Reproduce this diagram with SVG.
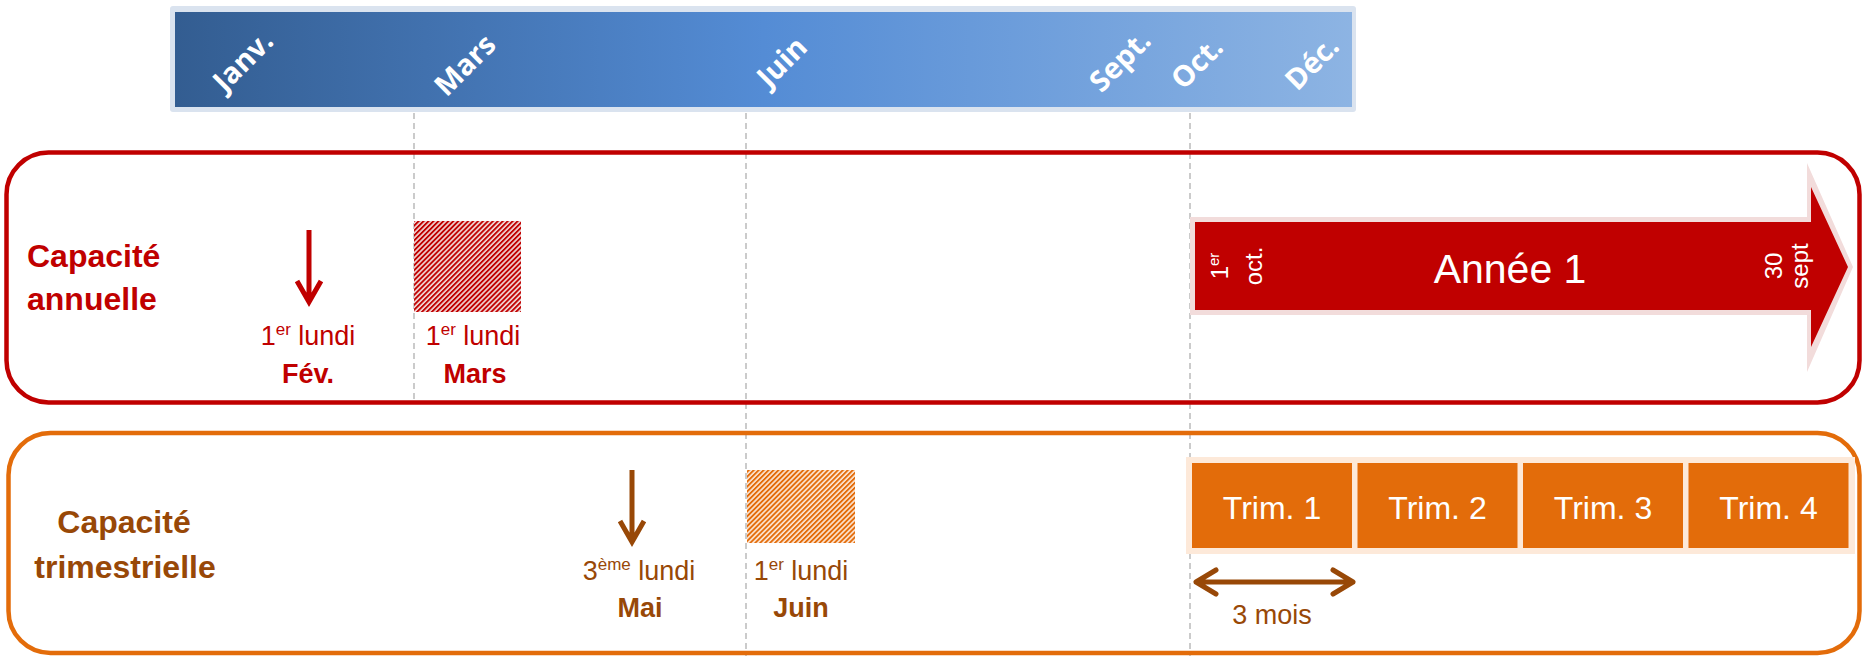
<svg xmlns="http://www.w3.org/2000/svg" width="1864" height="656" viewBox="0 0 1864 656">
<defs>
<linearGradient id="barGrad" x1="0" y1="0" x2="1" y2="0">
<stop offset="0" stop-color="#335d91"/>
<stop offset="0.5" stop-color="#548cd5"/>
<stop offset="1" stop-color="#8db4e3"/>
</linearGradient>
<pattern id="hatchRed" patternUnits="userSpaceOnUse" width="3.5" height="3.5" patternTransform="rotate(45)">
<rect width="3.5" height="3.5" fill="#f2dcdb"/>
<rect width="1.9" height="3.5" fill="#c00000"/>
</pattern>
<pattern id="hatchOrange" patternUnits="userSpaceOnUse" width="3.5" height="3.5" patternTransform="rotate(45)">
<rect width="3.5" height="3.5" fill="#fde9d9"/>
<rect width="1.9" height="3.5" fill="#e36c0a"/>
</pattern>
<style>
.month{font-family:"Open Sans","Liberation Sans",sans-serif;font-weight:700;font-size:29px;fill:#fff;text-anchor:middle}
.lbl{font-family:"Liberation Sans",Arial,sans-serif;font-size:27px;text-anchor:middle}
.b{font-weight:700}
.title{font-family:"Liberation Sans",Arial,sans-serif;font-size:32px;font-weight:700}
.red{fill:#c00000}
.brown{fill:#984807}
.dash{stroke:#bfbfbf;stroke-width:1.6;stroke-dasharray:6 4;fill:none}
.wtxt{font-family:"Liberation Sans",Arial,sans-serif;fill:#fff;text-anchor:middle}
</style>
</defs>
<rect width="1864" height="656" fill="#fff"/>

<g id="connectors">
<line class="dash" x1="414" y1="113" x2="414" y2="404"/>
<line class="dash" x1="746" y1="113" x2="746" y2="656"/>
<line class="dash" x1="1190" y1="113" x2="1190" y2="656"/>
<path d="M309,230 V301 M297,281 L309,302 L321,281" fill="none" stroke="#c00000" stroke-width="5"/>
<path d="M632,470 V541 M620,521 L632,542 L644,521" fill="none" stroke="#984807" stroke-width="5"/>
<path d="M1196,582 H1353 M1216,570 L1196,582 L1216,594 M1333,570 L1353,582 L1333,594" fill="none" stroke="#984807" stroke-width="5" stroke-linecap="round" stroke-linejoin="round"/>
</g>

<g id="timeline">
<rect x="170" y="6" width="1186" height="106" rx="3" fill="#dae3ef"/>
<rect x="175" y="12" width="1177" height="95" fill="url(#barGrad)"/>
<text class="month" transform="translate(243,61) rotate(-45)" dy="10">Janv.</text>
<text class="month" transform="translate(465,65) rotate(-45)" dy="10">Mars</text>
<text class="month" transform="translate(782,62) rotate(-45)" dy="10">Juin</text>
<text class="month" transform="translate(1120,61) rotate(-45)" dy="10">Sept.</text>
<text class="month" transform="translate(1197,63) rotate(-45)" dy="10">Oct.</text>
<text class="month" transform="translate(1312,63) rotate(-45)" dy="10">Déc.</text>
</g>

<g id="annual">
<rect x="6.5" y="152.5" width="1853" height="250" rx="42" fill="none" stroke="#c00000" stroke-width="4.5"/>
<text class="title red" x="27" y="267">Capacité</text>
<text class="title red" x="27" y="310">annuelle</text>
</g>

<g id="annual-feb">
<text class="lbl red" x="308" y="345">1<tspan font-size="17" dy="-10">er</tspan><tspan dy="10"> lundi</tspan></text>
<text class="lbl red b" x="308" y="383">Fév.</text>
</g>

<g id="annual-mar">
<rect x="414" y="221" width="107" height="91" fill="url(#hatchRed)"/>
<text class="lbl red" x="473" y="345">1<tspan font-size="17" dy="-10">er</tspan><tspan dy="10"> lundi</tspan></text>
<text class="lbl red b" x="475" y="383">Mars</text>
</g>

<g id="annee1">
<path d="M1190,217 H1807 V163 L1853,267 L1807,372 V315 H1190 Z" fill="#f2dcdb"/>
<path d="M1195,222 H1811 V187 L1848,267 L1811,347 V310 H1195 Z" fill="#c00000"/>
<text class="wtxt" x="1510" y="283" font-size="41">Année 1</text>
<text class="wtxt" font-size="24" transform="translate(1228,266) rotate(-90)">1<tspan font-size="15" dy="-9">er</tspan></text>
<text class="wtxt" font-size="24" transform="translate(1262,266) rotate(-90)">oct.</text>
<text class="wtxt" font-size="24" transform="translate(1782,266) rotate(-90)">30</text>
<text class="wtxt" font-size="24" transform="translate(1808,266) rotate(-90)">sept</text>
</g>

<g id="quarterly">
<rect x="8.5" y="433" width="1851" height="220" rx="42" fill="none" stroke="#e36c0a" stroke-width="4.5"/>
<text class="title brown" x="124" y="533" text-anchor="middle">Capacité</text>
<text class="title brown" x="125" y="578" text-anchor="middle">trimestrielle</text>
</g>

<g id="quarterly-may">
<text class="lbl brown" x="639" y="580">3<tspan font-size="17" dy="-10">ème</tspan><tspan dy="10"> lundi</tspan></text>
<text class="lbl brown b" x="640" y="617">Mai</text>
</g>

<g id="quarterly-jun">
<rect x="747" y="470" width="108" height="73" fill="url(#hatchOrange)"/>
<text class="lbl brown" x="801" y="580">1<tspan font-size="17" dy="-10">er</tspan><tspan dy="10"> lundi</tspan></text>
<text class="lbl brown b" x="801" y="617">Juin</text>
</g>

<g id="trims">
<rect x="1186" y="457" width="669" height="97" fill="#fde9d9"/>
<rect x="1192" y="463" width="160" height="85" fill="#e36c0a"/>
<rect x="1357.5" y="463" width="160" height="85" fill="#e36c0a"/>
<rect x="1523" y="463" width="160" height="85" fill="#e36c0a"/>
<rect x="1688.5" y="463" width="160" height="85" fill="#e36c0a"/>
<text class="wtxt" x="1272" y="519" font-size="32">Trim. 1</text>
<text class="wtxt" x="1437.5" y="519" font-size="32">Trim. 2</text>
<text class="wtxt" x="1603" y="519" font-size="32">Trim. 3</text>
<text class="wtxt" x="1768.5" y="519" font-size="32">Trim. 4</text>
</g>

<g id="three-months">
<text class="lbl brown" x="1272" y="624">3 mois</text>
</g>
</svg>
